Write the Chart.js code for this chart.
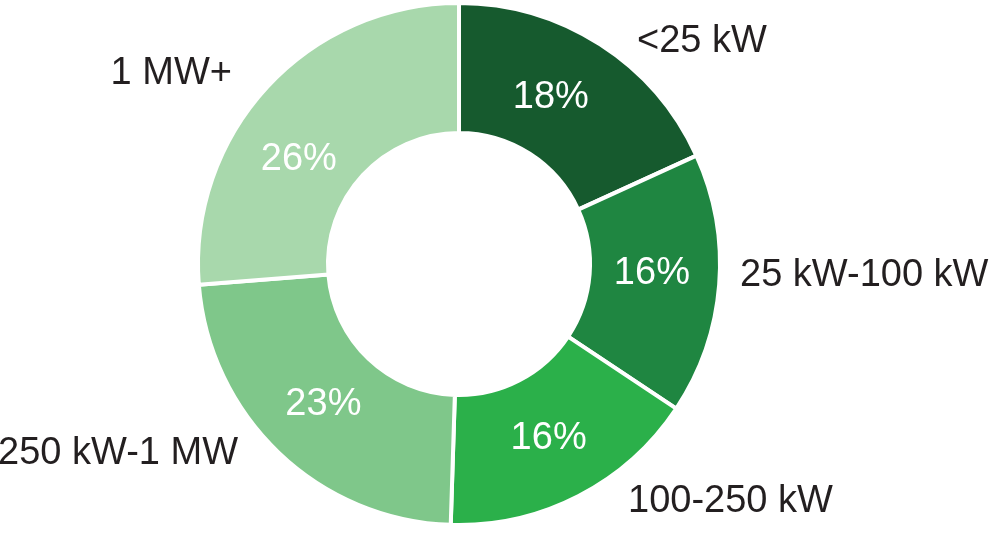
<!DOCTYPE html>
<html>
<head>
<meta charset="utf-8">
<script src="https://cdn.jsdelivr.net/npm/chart.js@4/dist/chart.umd.min.js"></script>
<style>
  html, body { margin: 0; padding: 0; background: #fff; }
  #wrap { width: 990px; height: 538px; position: relative; }
</style>
</head>
<body>
<div id="wrap"><canvas id="canvas"></canvas></div>
<script>
// data
const categories = ['<25 kW', '25 kW-100 kW', '100-250 kW', '250 kW-1 MW', '1 MW+'];
const shares = [18, 16, 16, 23, 26];
const sliceColors = ['#165a2e', '#1f8641', '#2bb04a', '#7fc78a', '#a8d8ac'];

// where the text sits (style only)
const pctNudgeDeg = [-4.3, -2.5, -0.4, 1, -8.8];
const outerLabelPos = [
  { dx: 178, dy: -226, align: 'left' },
  { dx: 281, dy: 8, align: 'left' },
  { dx: 169, dy: 234, align: 'left' },
  { dx: -221, dy: 186, align: 'right' },
  { dx: -227, dy: -194, align: 'right' }
];
const FONT = '"Liberation Sans", Arial, Helvetica, sans-serif';
const fontSize = 38;

const ringLabels = {
  id: 'ringLabels',
  afterDatasetsDraw(chart) {
    const ctx = chart.ctx;
    const meta = chart.getDatasetMeta(0);
    ctx.save();
    ctx.font = fontSize + 'px ' + FONT;
    ctx.textBaseline = 'alphabetic';
    const capHalf = fontSize * 0.358;
    meta.data.forEach(function (arc, i) {
      const p = arc.getProps(['x', 'y', 'startAngle', 'endAngle', 'innerRadius', 'outerRadius'], true);
      const mid = (p.startAngle + p.endAngle) / 2 + pctNudgeDeg[i] * Math.PI / 180;
      const r = (p.innerRadius + p.outerRadius) / 2 - 3;
      ctx.fillStyle = '#ffffff';
      ctx.textAlign = 'center';
      ctx.fillText(shares[i] + '%', p.x + r * Math.cos(mid), p.y + r * Math.sin(mid) + capHalf);

      const o = outerLabelPos[i];
      ctx.fillStyle = '#231f20';
      ctx.textAlign = o.align;
      ctx.fillText(categories[i], p.x + o.dx, p.y + o.dy + capHalf);
    });
    ctx.restore();
  }
};

const ctx = document.getElementById('canvas');
new Chart(ctx, {
  type: 'doughnut',
  data: {
    labels: categories,
    datasets: [{
      data: shares,
      backgroundColor: sliceColors,
      borderColor: '#ffffff',
      borderWidth: 4,
      hoverOffset: 0
    }]
  },
  options: {
    responsive: true,
    maintainAspectRatio: false,
    animation: false,
    radius: 261,
    cutout: '50.2%',
    layout: {
      padding: { left: 198, right: 270, top: 3, bottom: 13 }
    },
    plugins: {
      legend: { display: false },
      tooltip: { enabled: false }
    }
  },
  plugins: [ringLabels]
});
</script>
</body>
</html>
